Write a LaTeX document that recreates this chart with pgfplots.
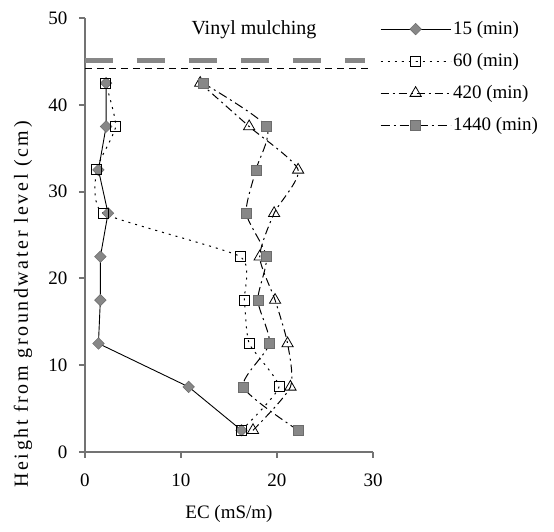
\documentclass[border=0pt]{standalone}
\usepackage{fontspec}
\setmainfont{Liberation Serif}
\newfontfamily\widefont[LetterSpace=13]{Liberation Serif}
\usepackage{pgfplots}
\pgfplotsset{compat=1.18}
\usetikzlibrary{calc}
\definecolor{mkgray}{RGB}{135,135,135}
\definecolor{axgray}{RGB}{115,115,115}
\begin{document}
\fontsize{19}{22}\selectfont
\begin{tikzpicture}
\begin{axis}[
  name=ax, scale only axis, width=288pt, height=434pt,
  xmin=0, xmax=30, ymin=0, ymax=50,
  axis x line*=bottom, axis y line*=left,
  axis line style={axgray, line width=2.5pt, -},
  xtick={0,10,20,30}, ytick={0,10,20,30,40,50},
  tick align=outside, major tick length=6pt,
  tick style={axgray, line width=2pt},
  /pgf/number format/assume math mode=true,
  ticklabel style={font=\fontsize{19}{22}\selectfont},
  xticklabel style={yshift=-9pt},
  yticklabel style={xshift=-5pt},
  xlabel={EC (mS/m)},
  ylabel={\widefont Height from groundwater level (cm)},
  xlabel style={at={(axis description cs:0.5,-0.143)}, anchor=center, font=\fontsize{19}{22}\selectfont},
  ylabel style={at={(axis description cs:-0.215,0.34)}, anchor=center, rotate=0, font=\fontsize{20}{24}\selectfont},
  clip=false,
  legend style={at={(rel axis cs:1.024,0.998)}, anchor=north west, draw=none, fill=none,
    font=\fontsize{19}{22}\selectfont, row sep=12pt, inner sep=0pt},
  legend cell align=left,
  legend image code/.code={\draw[mark repeat=2, mark phase=2, #1] plot coordinates {(0pt,0pt) (35pt,0pt) (70pt,0pt)};},
]
% reference lines
\addplot[forget plot, mkgray, line width=5pt, dash pattern=on 28pt off 24pt] coordinates {(0,45.1) (29.2,45.1)};
\addplot[forget plot, black, line width=1pt, dash pattern=on 7pt off 5pt] coordinates {(0,44.2) (30,44.2)};

\addplot[black, line width=0.9pt, mark=square*, mark size=4.1pt, mark options={rotate=45, solid, fill=mkgray, draw=mkgray!80!black, line width=0.5pt}]
 coordinates {(16.3,2.5) (10.8,7.5) (1.4,12.5) (1.6,17.5) (1.6,22.5) (2.4,27.5) (1.4,32.5) (2.2,37.5) (2.2,42.5)};
\addlegendentry{15 (min)}

\addplot[black, line width=1pt, dash pattern=on 2pt off 5pt, smooth, tension=0.3, mark=square, mark size=5pt, mark options={solid, fill=white, draw=black, line width=0.8pt}]
 coordinates {(16.3,2.5) (20.2,7.5) (17.1,12.5) (16.6,17.5) (16.2,22.5) (1.9,27.5) (1.2,32.5) (3.2,37.5) (2.15,42.5)};
\addlegendentry{60 (min)}

\addplot[black, line width=1pt, dash pattern=on 8pt off 4pt on 2pt off 4pt, smooth, tension=0.4, mark=triangle, mark size=6.5pt, mark options={solid, fill=white, draw=black, line width=0.8pt}]
 coordinates {(17.5,2.5) (21.4,7.5) (21.1,12.5) (19.8,17.5) (18.2,22.5) (19.7,27.5) (22.2,32.5) (17.1,37.5) (12.0,42.5)};
\addlegendentry{420 (min)}

\addplot[black, line width=1pt, dash pattern=on 9pt off 4pt on 2pt off 4pt, smooth, tension=0.4, mark=square*, mark size=5pt, mark options={solid, fill=mkgray, draw=mkgray!80!black, line width=0.5pt}]
 coordinates {(22.2,2.5) (16.5,7.5) (19.2,12.5) (18.0,17.5) (18.9,22.5) (16.8,27.5) (17.8,32.5) (18.9,37.5) (12.3,42.5)};
\addlegendentry{1440 (min)}

\node[font=\fontsize{20}{24}\selectfont] at (axis cs:17.6,48.6) {Vinyl mulching};
\coordinate (bl) at (rel axis cs:0,0);
\coordinate (tr) at (rel axis cs:1,1);
\end{axis}
\pgfresetboundingbox
\path[use as bounding box] ($(bl)+(-85pt,-80pt)$) rectangle ($(tr)+(181pt,18pt)$);
\end{tikzpicture}
\end{document}
